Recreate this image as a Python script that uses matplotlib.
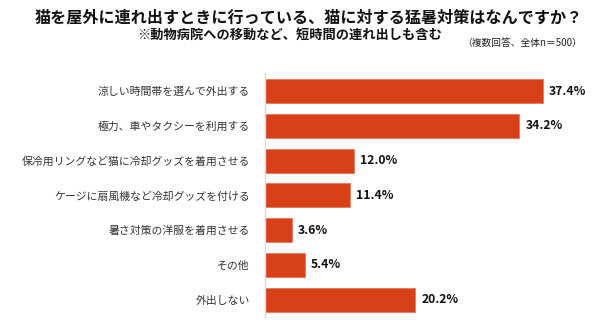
import matplotlib
matplotlib.use("Agg")
import matplotlib.pyplot as plt

plt.rcParams['font.family'] = ['Noto Sans CJK JP', 'DejaVu Sans']

categories = [
    "涼しい時間帯を選んで外出する",
    "極力、車やタクシーを利用する",
    "保冷用リングなど猫に冷却グッズを着用させる",
    "ケージに扇風機など冷却グッズを付ける",
    "暑さ対策の洋服を着用させる",
    "その他",
    "外出しない",
]
values = [37.4, 34.2, 12.0, 11.4, 3.6, 5.4, 20.2]
value_labels = ["37.4%", "34.2%", "12.0%", "11.4%", "3.6%", "5.4%", "20.2%"]

bar_color = "#D84118"

fig = plt.figure(figsize=(6, 3.22), dpi=100)
# axis line sits at x=265px, 7.44px per percent
ax = fig.add_axes([0.4417, 0.0155, 0.5580, 0.7578])

y = list(range(len(categories)))
ax.barh(y, values, height=0.69, color=bar_color, edgecolor="#E8775A", linewidth=0.6)

for yi, v, lab in zip(y, values, value_labels):
    ax.text(v + 0.8, yi, lab, va="center", ha="left", fontsize=8.8,
            fontweight="bold", color="#111111")

ax.set_xlim(0, 45)
ax.set_ylim(6.5, -0.52)
ax.set_yticks(y)
ax.set_yticklabels(categories, fontsize=7.8, color="#333333")
ax.tick_params(axis="y", length=0, pad=11)
ax.set_xticks([])
for s in ["top", "right", "bottom"]:
    ax.spines[s].set_visible(False)
ax.spines["left"].set_color("#d9d9d9")
ax.spines["left"].set_linewidth(1.0)

fig.text(0.515, 0.944, "猫を屋外に連れ出すときに行っている、猫に対する猛暑対策はなんですか？",
         ha="center", va="center", fontsize=11.6, fontweight="bold", color="#111111")
fig.text(0.482, 0.891, "※動物病院への移動など、短時間の連れ出しも含む",
         ha="center", va="center", fontsize=9.5, fontweight="bold", color="#111111")
fig.text(0.97, 0.866, "（複数回答、全体n＝500）",
         ha="right", va="center", fontsize=7, color="#222222")

fig.savefig("out.png", dpi=100)
